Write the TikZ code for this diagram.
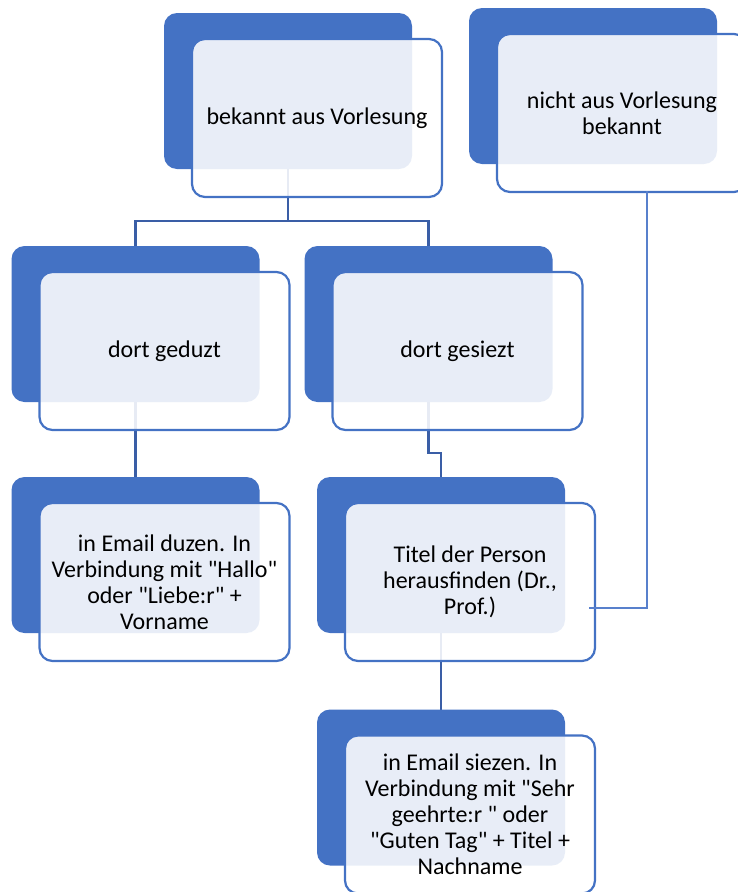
\documentclass[tikz,border=0pt]{standalone}
\usepackage{fontspec}
\setmainfont{Carlito}[Ligatures=TeXOff]
\usepackage{tikz}
\usetikzlibrary{backgrounds}
\definecolor{boxblue}{RGB}{68,114,196}
\definecolor{linkblue}{RGB}{58,94,166}
\definecolor{sideblue}{RGB}{88,128,204}

\begin{document}
\begin{tikzpicture}[x=1pt,y=-1pt,
    backbox/.style={rectangle,rounded corners=13pt,fill=boxblue,minimum width=248pt,minimum height=156pt,inner sep=0pt,outer sep=0pt},
    frontbox/.style={rectangle,rounded corners=13pt,draw=boxblue,line width=2.2pt,fill=white,fill opacity=0.88,text opacity=1,minimum width=250pt,minimum height=158pt,inner sep=2pt,outer sep=0pt,align=center,font=\fontsize{24}{26}\selectfont},
    link/.style={draw=linkblue,line width=2.6pt},
    sidelink/.style={draw=sideblue,line width=1.4pt}]
  \useasboundingbox (0,0) rectangle (737,892);

  \node[backbox](vl) at (288,91){};
  \node[frontbox](vl-f) at ([shift={(29,27)}]vl.center){bekannt aus Vorlesung};

  \node[backbox](nvl) at (593,86){};
  \node[frontbox](nvl-f) at ([shift={(29,27)}]nvl.center){nicht aus Vorlesung\\bekannt};

  \node[backbox](duz) at (135.5,324){};
  \node[frontbox](duz-f) at ([shift={(29,27)}]duz.center){dort geduzt};

  \node[backbox](sie) at (428.5,324){};
  \node[frontbox](sie-f) at ([shift={(29,27)}]sie.center){dort gesiezt};

  \node[backbox](duzmail) at (135.5,555){};
  \node[frontbox](duzmail-f) at ([shift={(29,27)}]duzmail.center){in Email duzen. In\\Verbindung mit "Hallo"\\oder "Liebe:r" +\\Vorname};

  \node[backbox](titel) at (441,555){};
  \node[frontbox](titel-f) at ([shift={(29,27)}]titel.center){Titel der Person\\herausfinden (Dr.,\\Prof.)};

  \node[backbox](siemail) at (441,787.5){};
  \node[frontbox](siemail-f) at ([shift={(29,27)}]siemail.center){in Email siezen. In\\Verbindung mit "Sehr\\geehrte:r " oder\\"Guten Tag" + Titel +\\Nachname};

  \begin{pgfonlayer}{background}
    \draw[link] (vl.south) -- ++(0,52) -| (duz.north);
    \draw[link] (vl.south) -- ++(0,52) -| (sie.north);
    \draw[link] (duz.south) -- (duzmail.north);
    \draw[link] (sie.south) -- ++(0,51) -| (titel.north);
    \draw[link] (titel.south) -- (siemail.north);
  \end{pgfonlayer}

  \coordinate (nvl-out) at ([xshift=25pt,yshift=1pt]nvl-f.south);
  \coordinate (titel-in) at ([shift={(-6,26)}]titel-f.east);
  \draw[sidelink] (nvl-out) |- (titel-in);
\end{tikzpicture}
\end{document}
